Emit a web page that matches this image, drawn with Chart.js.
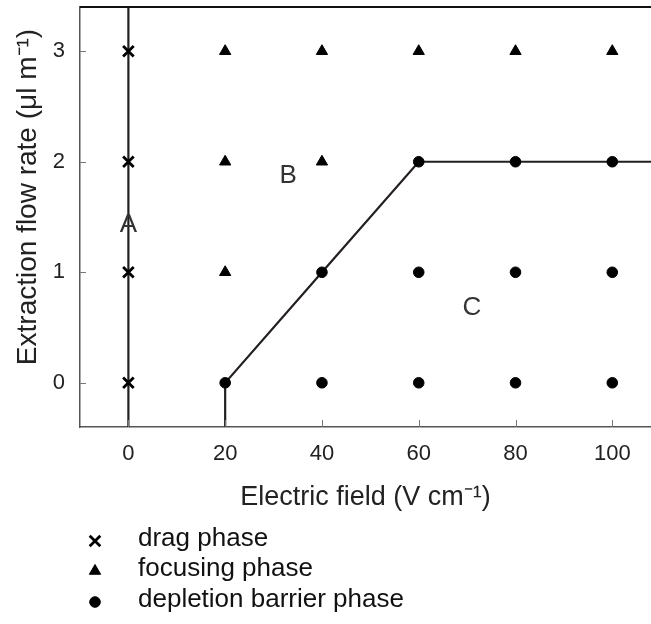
<!DOCTYPE html>
<html>
<head>
<meta charset="utf-8">
<title>Phase diagram</title>
<script src="https://cdn.jsdelivr.net/npm/chart.js@4/dist/chart.umd.min.js"></script>
<style>
  body { margin: 0; background: #fff; }
  canvas { display: block; }
</style>
</head>
<body>
<canvas id="phase_Chart" width="651" height="624"></canvas>
<script>
// axis ticks
const xTicks = [0, 20, 40, 60, 80, 100];
const yTicks = [0, 1, 2, 3];

// measured phases (electric field, extraction flow rate)
const dragX = [0, 0, 0, 0];
const dragY = [0, 1, 2, 3];
const focusX = [20, 20, 20, 40, 40, 60, 80, 100];
const focusY = [1, 2, 3, 2, 3, 3, 3, 3];
const depletionX = [20, 40, 40, 60, 60, 60, 80, 80, 80, 100, 100, 100];
const depletionY = [0, 0, 1, 0, 1, 2, 0, 1, 2, 0, 1, 2];

// phase boundaries
const boundaryAX = [0, 0];
const boundaryAY = [-0.4, 3.4];
const boundaryBX = [20, 20, 40, 60, 108];
const boundaryBY = [-0.4, 0, 1, 2, 2];

// region letters
const regionText = ['A', 'B', 'C'];
const regionX = [0, 33, 71];
const regionY = [1.43, 1.87, 0.68];

const legendLabels = ['drag phase', 'focusing phase', 'depletion barrier phase'];

const FONT = "'Liberation Sans', Arial, sans-serif";
const pts = (xs, ys) => xs.map((x, i) => ({ x: x, y: ys[i] }));

const decor = {
  id: 'decor',
  afterDraw(chart) {
    const ctx = chart.ctx;
    const area = chart.chartArea;
    const sx = chart.scales.x, sy = chart.scales.y;
    ctx.save();

    // top frame line
    ctx.strokeStyle = '#111';
    ctx.lineWidth = 2;
    ctx.beginPath();
    ctx.moveTo(area.left, area.top);
    ctx.lineTo(area.right, area.top);
    ctx.stroke();

    // inward tick marks
    ctx.strokeStyle = '#777';
    ctx.lineWidth = 1;
    ctx.beginPath();
    sx.ticks.forEach(t => {
      const px = Math.round(sx.getPixelForValue(t.value)) + 0.5;
      ctx.moveTo(px, area.bottom);
      ctx.lineTo(px, area.bottom - 7);
    });
    sy.ticks.forEach(t => {
      const py = Math.round(sy.getPixelForValue(t.value)) + 0.5;
      ctx.moveTo(area.left, py);
      ctx.lineTo(area.left + 6, py);
    });
    ctx.stroke();

    // region letters
    ctx.fillStyle = '#333';
    ctx.font = '26px ' + FONT;
    ctx.textAlign = 'center';
    ctx.textBaseline = 'middle';
    regionText.forEach((t, i) => {
      ctx.fillText(t, sx.getPixelForValue(regionX[i]), sy.getPixelForValue(regionY[i]));
    });

    // y axis title
    ctx.fillStyle = '#222';
    ctx.font = '28px ' + FONT;
    ctx.translate(28, 197);
    ctx.rotate(-Math.PI / 2);
    ctx.fillText('Extraction flow rate (\u03bcl m\u207b\u00b9)', 0, 0);
    ctx.setTransform(1, 0, 0, 1, 0, 0);

    // legend
    const rows = [541, 571, 602];
    ctx.textAlign = 'left';
    ctx.font = '26px ' + FONT;
    legendLabels.forEach((lab, i) => {
      const ds = chart.data.datasets[i];
      ctx.fillStyle = '#000';
      ctx.strokeStyle = '#000';
      ctx.lineWidth = ds.borderWidth;
      Chart.helpers.drawPoint(ctx, {
        pointStyle: ds.pointStyle,
        radius: ds.pointRadius,
        borderWidth: ds.borderWidth,
        rotation: 0
      }, 95, rows[i]);
      ctx.fillStyle = '#111';
      ctx.fillText(lab, 138, rows[i] - 2);
    });
    ctx.restore();
  }
};

const data = {
  datasets: [{
    label: legendLabels[0],
    data: pts(dragX, dragY),
    pointStyle: 'crossRot',
    pointRadius: 7.5,
    borderWidth: 2.8,
    borderColor: '#000',
    backgroundColor: '#000'
  }, {
    label: legendLabels[1],
    data: pts(focusX, focusY),
    pointStyle: 'triangle',
    pointRadius: 6.5,
    borderWidth: 1,
    borderColor: '#000',
    backgroundColor: '#000'
  }, {
    label: legendLabels[2],
    data: pts(depletionX, depletionY),
    pointStyle: 'circle',
    pointRadius: 5.3,
    borderWidth: 1,
    borderColor: '#000',
    backgroundColor: '#000'
  }, {
    label: 'boundary A',
    data: pts(boundaryAX, boundaryAY),
    showLine: true,
    pointRadius: 0,
    borderWidth: 2.2,
    borderColor: '#231f20'
  }, {
    label: 'boundary B/C',
    data: pts(boundaryBX, boundaryBY),
    showLine: true,
    pointRadius: 0,
    borderWidth: 2.2,
    borderColor: '#231f20'
  }]
};

const config = {
  type: 'scatter',
  data: data,
  options: {
    responsive: false,
    animation: false,
    layout: { autoPadding: false, padding: { top: 7, right: 0, bottom: 106.4, left: 0 } },
    plugins: { legend: { display: false }, tooltip: { enabled: false } },
    scales: {
      x: {
        type: 'linear',
        min: -10,
        max: 108,
        afterBuildTicks: s => { s.ticks = xTicks.map(v => ({ value: v })); },
        afterFit: s => { s.height = 90.6; s.paddingLeft = 0; s.paddingRight = 0; },
        grid: { display: false, drawTicks: false },
        border: { display: true, color: '#555', width: 1.5 },
        ticks: { padding: 14, color: '#222', font: { family: FONT, size: 22 } },
        title: {
          display: true,
          text: 'Electric field (V cm\u207b\u00b9)',
          color: '#222',
          font: { family: FONT, size: 27 },
          padding: { top: 0, bottom: 4 }
        }
      },
      y: {
        type: 'linear',
        min: -0.4,
        max: 3.4,
        afterBuildTicks: s => { s.ticks = yTicks.map(v => ({ value: v })); },
        afterFit: s => { s.width = 80; s.paddingTop = 0; s.paddingBottom = 0; },
        grid: { display: false, drawTicks: false },
        border: { display: true, color: '#555', width: 1.5 },
        ticks: { padding: 15, color: '#222', font: { family: FONT, size: 22 } }
      }
    }
  },
  plugins: [decor]
};

const myChart = new Chart(document.getElementById('phase_Chart'), config);
</script>
</body>
</html>
